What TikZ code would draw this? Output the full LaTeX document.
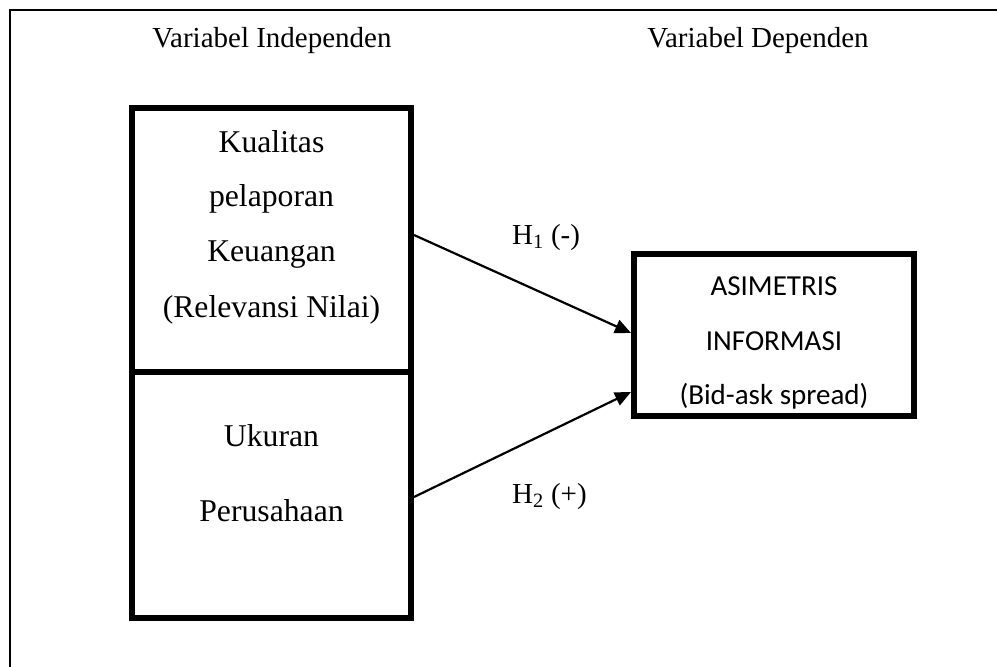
\documentclass[tikz,border=0pt]{standalone}
\usepackage{fontspec}
\setmainfont{Liberation Serif}
\newfontfamily\calib{Carlito}
\usetikzlibrary{arrows.meta}
\tikzset{
  varbox/.style={draw, line width=6pt, rectangle, inner sep=0pt},
  boxtext/.style={anchor=base, inner sep=0pt, font=\fontsize{31.7}{38}\selectfont},
  headtext/.style={anchor=base, inner sep=0pt, font=\fontsize{29}{35}\selectfont},
  deptext/.style={anchor=base, inner sep=0pt, font=\calib\fontsize{29}{35}\selectfont},
  hyparrow/.style={line width=2.2pt, -{Triangle[length=16pt,width=14pt]}},
}
\begin{document}
\begin{tikzpicture}[x=1pt,y=-1pt]
\useasboundingbox (0,0) rectangle (997,667);
\clip (0,0) rectangle (997,667);
% outer frame (cut at right and bottom)
\draw[line width=1.5pt] (1010,10) -- (10,10) -- (10,690);
% headers
\node[headtext] (hind) at (272,47) {Variabel Independen};
\node[headtext] (hdep) at (758,47) {Variabel Dependen};
% boxes
\node[varbox, minimum width=279pt, minimum height=264pt] (kual) at (271.5,240) {};
\node[varbox, minimum width=279pt, minimum height=246pt] (ukur) at (271.5,495) {};
\node[varbox, minimum width=280pt, minimum height=162pt] (asim) at (774,335) {};
% texts in left boxes
\node[boxtext] (t1) at (271.5,152) {Kualitas};
\node[boxtext] (t2) at (271.5,206) {pelaporan};
\node[boxtext] (t3) at (271.5,261) {Keuangan};
\node[boxtext] (t4) at (271.5,317) {(Relevansi Nilai)};
\node[boxtext] (t5) at (271.5,446) {Ukuran};
\node[boxtext] (t6) at (271.5,521) {Perusahaan};
% texts in right box
\node[deptext] (d1) at (774,295) {ASIMETRIS};
\node[deptext] (d2) at (774,350) {INFORMASI};
\node[deptext] (d3) at (774,404) {(Bid-ask spread)};
% arrows
\draw[hyparrow] ([yshift=5pt]kual.east) -- ([yshift=2pt]asim.west);
\draw[hyparrow] ([yshift=-2pt]ukur.east) -- ([yshift=-57pt]asim.west);
% hypothesis labels
\node[headtext, anchor=base west] (h1) at (512,244) {H\textsubscript{1} (-)};
\node[headtext, anchor=base west] (h2) at (512,503) {H\textsubscript{2} (+)};
\end{tikzpicture}
\end{document}
